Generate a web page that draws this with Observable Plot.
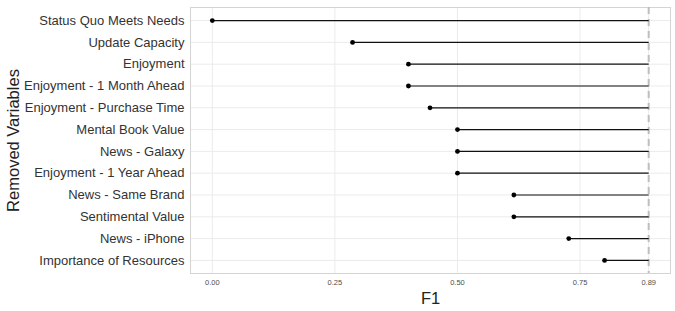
<!DOCTYPE html>
<html>
<head>
<meta charset="utf-8">
<script src="https://cdn.jsdelivr.net/npm/d3@7"></script>
<script src="https://cdn.jsdelivr.net/npm/@observablehq/plot@0.6"></script>
<style>
  html, body { margin: 0; padding: 0; background: #fff; }
  #chart svg { font-family: "Liberation Sans", Arial, sans-serif; }
</style>
</head>
<body>
<div id="chart"></div>
<script>
const variables = [
  "Status Quo Meets Needs",
  "Update Capacity",
  "Enjoyment",
  "Enjoyment - 1 Month Ahead",
  "Enjoyment - Purchase Time",
  "Mental Book Value",
  "News - Galaxy",
  "Enjoyment - 1 Year Ahead",
  "News - Same Brand",
  "Sentimental Value",
  "News - iPhone",
  "Importance of Resources"
];
const f1Values = [0.00, 0.286, 0.40, 0.40, 0.444, 0.50, 0.50, 0.50, 0.615, 0.615, 0.727, 0.80];
const fullModelF1 = 0.89;
const xTicks = [0, 0.25, 0.5, 0.75, 0.89];

const data = variables.map((v, i) => ({variable: v, f1: f1Values[i], full: fullModelF1}));

const chart = Plot.plot({
  width: 675,
  height: 311,
  marginLeft: 190,
  marginRight: 5,
  marginTop: 7,
  marginBottom: 38,
  x: {domain: [-0.0445, 0.9345]},
  y: {domain: variables, padding: 0.6, round: false},
  marks: [
    Plot.gridX(xTicks, {stroke: "#EBEBEB", strokeOpacity: 1, strokeWidth: 1}),
    Plot.gridY(variables, {stroke: "#EBEBEB", strokeOpacity: 1, strokeWidth: 1}),
    Plot.frame({stroke: "#D4D4D4", strokeWidth: 1}),
    Plot.ruleX([fullModelF1], {stroke: "#BEBEBE", strokeWidth: 2, strokeDasharray: "7,5"}),
    Plot.link(data, {x1: "f1", x2: "full", y1: "variable", y2: "variable", stroke: "#111", strokeWidth: 1.2}),
    Plot.dot(data, {x: "f1", y: "variable", r: 2.4, fill: "#000", stroke: null}),
    Plot.axisX({
      ticks: xTicks, tickFormat: d3.format(".2f"), tickSize: 0, tickPadding: 6,
      fontSize: 7.5, color: "#4D4D4D",
      label: "F1", labelAnchor: "center", labelArrow: "none", labelOffset: 30
    }),
    Plot.axisY({
      tickSize: 0, tickPadding: 6, fontSize: 13, color: "#333",
      label: "Removed Variables", labelAnchor: "center", labelArrow: "none", labelOffset: 183
    })
  ]
});
chart.querySelectorAll("g[aria-label='x-axis label'] text, g[aria-label='y-axis label'] text").forEach(t => {
  t.style.fontSize = "16.5px";
  t.style.fill = "#222";
});
document.getElementById("chart").appendChild(chart);
</script>
</body>
</html>
